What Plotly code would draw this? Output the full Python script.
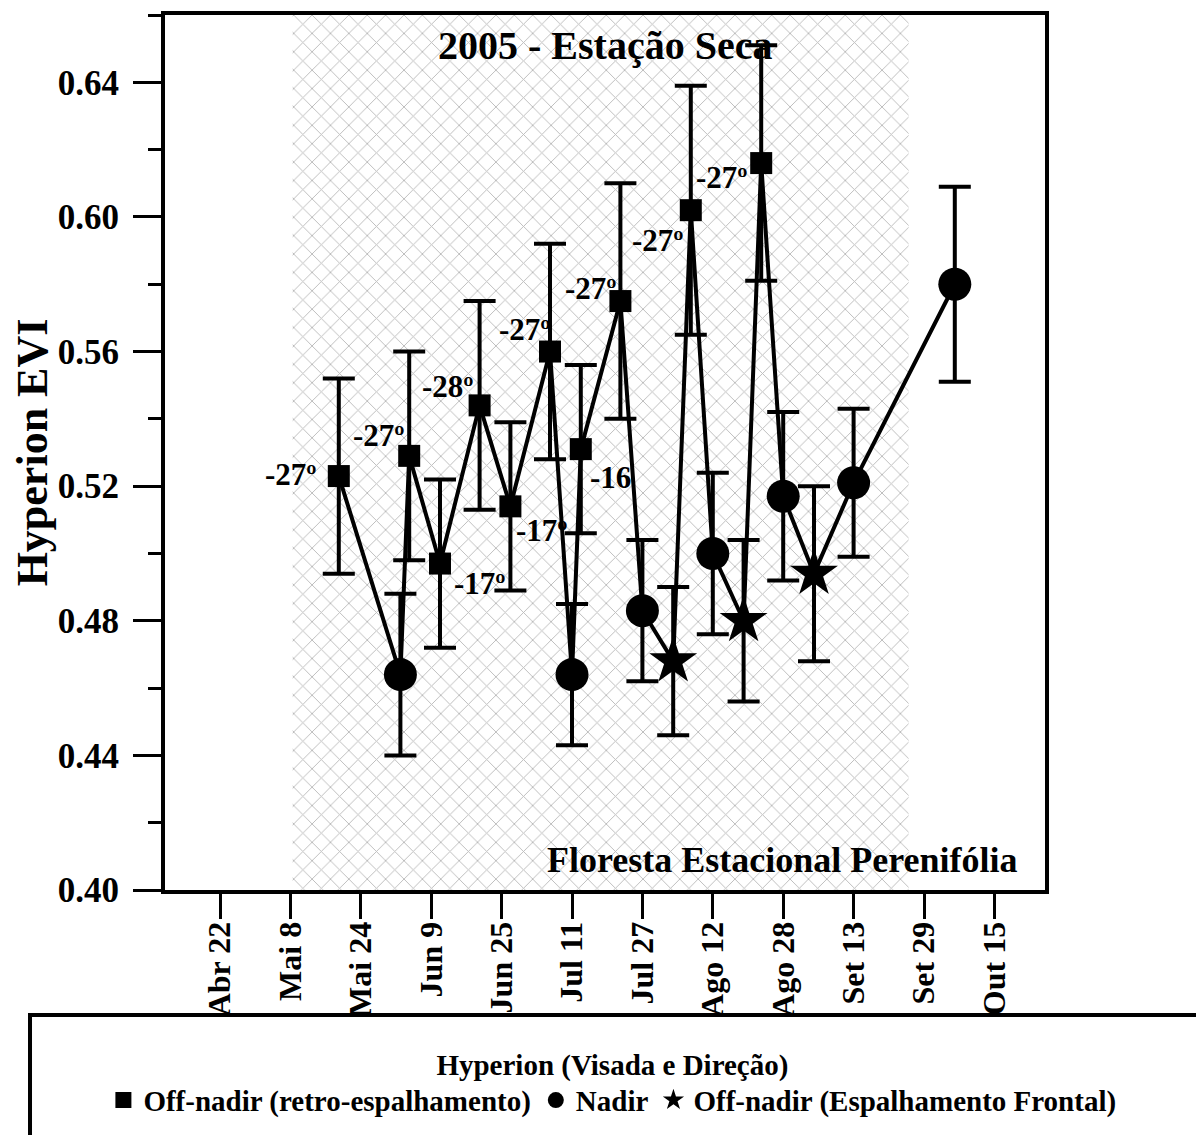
import plotly.graph_objects as go

# ---------------- data ----------------
sq_dates = ["2005-05-19", "2005-06-04", "2005-06-11", "2005-06-20", "2005-06-27",
            "2005-07-06", "2005-07-13", "2005-07-22", "2005-08-07", "2005-08-23"]
sq_vals = [0.523, 0.529, 0.497, 0.544, 0.514, 0.560, 0.531, 0.575, 0.602, 0.616]
sq_err = [0.029, 0.031, 0.025, 0.031, 0.025, 0.032, 0.025, 0.035, 0.037, 0.035]
sq_labels = ["-27º", "-27º", "-17º", "-28º", "-17º", "-27º", "-16", "-27º", "-27º", "-27º"]

ci_dates = ["2005-06-02", "2005-07-11", "2005-07-27", "2005-08-12", "2005-08-28",
            "2005-09-13", "2005-10-06"]
ci_vals = [0.464, 0.464, 0.483, 0.500, 0.517, 0.521, 0.580]
ci_err = [0.024, 0.021, 0.021, 0.024, 0.025, 0.022, 0.029]

st_dates = ["2005-08-03", "2005-08-19", "2005-09-04"]
st_vals = [0.468, 0.480, 0.494]
st_err = [0.022, 0.024, 0.026]

tick_dates = ["2005-04-22", "2005-05-08", "2005-05-24", "2005-06-09", "2005-06-25",
              "2005-07-11", "2005-07-27", "2005-08-12", "2005-08-28", "2005-09-13",
              "2005-09-29", "2005-10-15"]
tick_text = ["Abr 22", "Mai 8", "Mai 24", "Jun 9", "Jun 25", "Jul 11", "Jul 27",
             "Ago 12", "Ago 28", "Set 13", "Set 29", "Out 15"]

dry_start = "2005-05-08 12:00"
dry_end = "2005-09-25 12:00"

series_names = ["Off-nadir (retro-espalhamento)", "Nadir", "Off-nadir (Espalhamento Frontal)"]

# ---------------- figure ----------------
FONT = "Liberation Serif"
Y0, Y1 = 0.40, 0.66

fig = go.Figure()

# dry season shading
fig.add_trace(go.Scatter(
    x=[dry_start, dry_end, dry_end, dry_start, dry_start],
    y=[Y0, Y0, Y1, Y1, Y0],
    mode="lines", fill="toself", line=dict(width=0),
    fillcolor="white",
    fillpattern=dict(shape="x", fgcolor="#777777", bgcolor="white", size=13, solidity=0.14),
    showlegend=False, hoverinfo="skip"))

# connecting line (all points chronologically)
all_pts = sorted(zip(sq_dates + ci_dates + st_dates, sq_vals + ci_vals + st_vals))
fig.add_trace(go.Scatter(
    x=[p[0] for p in all_pts], y=[p[1] for p in all_pts],
    mode="lines", line=dict(color="black", width=4),
    showlegend=False, hoverinfo="skip"))

err_style = dict(type="data", color="black", thickness=4, width=16, visible=True)

fig.add_trace(go.Scatter(
    x=sq_dates, y=sq_vals, mode="markers", name=series_names[0],
    marker=dict(symbol="square", size=22, color="black"),
    error_y=dict(array=sq_err, **err_style)))
fig.add_trace(go.Scatter(
    x=ci_dates, y=ci_vals, mode="markers", name=series_names[1],
    marker=dict(symbol="circle", size=33, color="black"),
    error_y=dict(array=ci_err, **err_style)))
fig.add_trace(go.Scatter(
    x=st_dates, y=st_vals, mode="markers", name=series_names[2],
    marker=dict(symbol="star", size=36, color="black"),
    error_y=dict(array=st_err, **err_style)))

# angle labels near the off-nadir (retro) points
label_shifts = [(-48, 2), (-30, 20), (40, -20), (-32, 19), (32, -24),
                (-25, 22), (30, -28), (-29, 13), (-33, -30), (-39, -14)]
for d, v, t, (dx, dy) in zip(sq_dates, sq_vals, sq_labels, label_shifts):
    fig.add_annotation(x=d, y=v, text=t, showarrow=False, xshift=dx, yshift=dy,
                       xanchor="center", yanchor="middle",
                       font=dict(family=FONT, size=31, color="black", weight="bold"))

fig.add_annotation(x=0.5, y=0.965, xref="paper", yref="paper", text="2005 - Estação Seca",
                   xanchor="center", yanchor="middle", showarrow=False,
                   font=dict(family=FONT, size=40, color="black", weight="bold"))
fig.add_annotation(x=0.972, y=0.034, xref="paper", yref="paper", xanchor="right",
                   yanchor="middle", text="Floresta Estacional Perenifólia", showarrow=False,
                   font=dict(family=FONT, size=36, color="black", weight="bold"))

# legend frame
fig.add_shape(type="rect", xref="paper", yref="paper", x0=-0.1534, x1=1.19, y0=-0.29, y1=-0.1429,
              line=dict(color="black", width=4), fillcolor="rgba(0,0,0,0)")

fig.update_layout(
    width=1204, height=1135,
    margin=dict(l=157, r=167, t=7, b=253, autoexpand=False),
    paper_bgcolor="white", plot_bgcolor="white",
    font=dict(family=FONT, color="black"),
    showlegend=True,
    legend=dict(orientation="h", x=-0.07, xanchor="left", y=-0.168, yanchor="top",
                title=dict(text="Hyperion (Visada e Direção)", side="top center",
                           font=dict(family=FONT, size=29, weight="bold")),
                font=dict(family=FONT, size=29, color="black", weight="bold"),
                bgcolor="rgba(0,0,0,0)", itemsizing="trace", tracegroupgap=0),
    xaxis=dict(type="date", range=["2005-04-09 12:00", "2005-10-26 12:00"],
               tickvals=tick_dates, ticktext=tick_text, tickangle=-90,
               tickfont=dict(family=FONT, size=32, weight="bold"),
               ticks="outside", ticklen=25, tickwidth=3, tickcolor="black",
               ticklabelstandoff=-10,
               showline=True, linecolor="black", linewidth=4, mirror=True,
               showgrid=False, zeroline=False),
    yaxis=dict(range=[Y0, Y1], tickvals=[0.40, 0.44, 0.48, 0.52, 0.56, 0.60, 0.64],
               tickformat=".2f",
               tickfont=dict(family=FONT, size=35, weight="bold"),
               ticks="outside", ticklen=28, tickwidth=3, tickcolor="black",
               ticklabelstandoff=7,
               minor=dict(dtick=0.02, tick0=0.40, ticks="outside", ticklen=13,
                          tickwidth=3, tickcolor="black"),
               showline=True, linecolor="black", linewidth=4, mirror=True,
               showgrid=False, zeroline=False,
               title=dict(text="Hyperion EVI", standoff=10,
                          font=dict(family=FONT, size=44, weight="bold"))),
)

fig.write_html("out.html")
